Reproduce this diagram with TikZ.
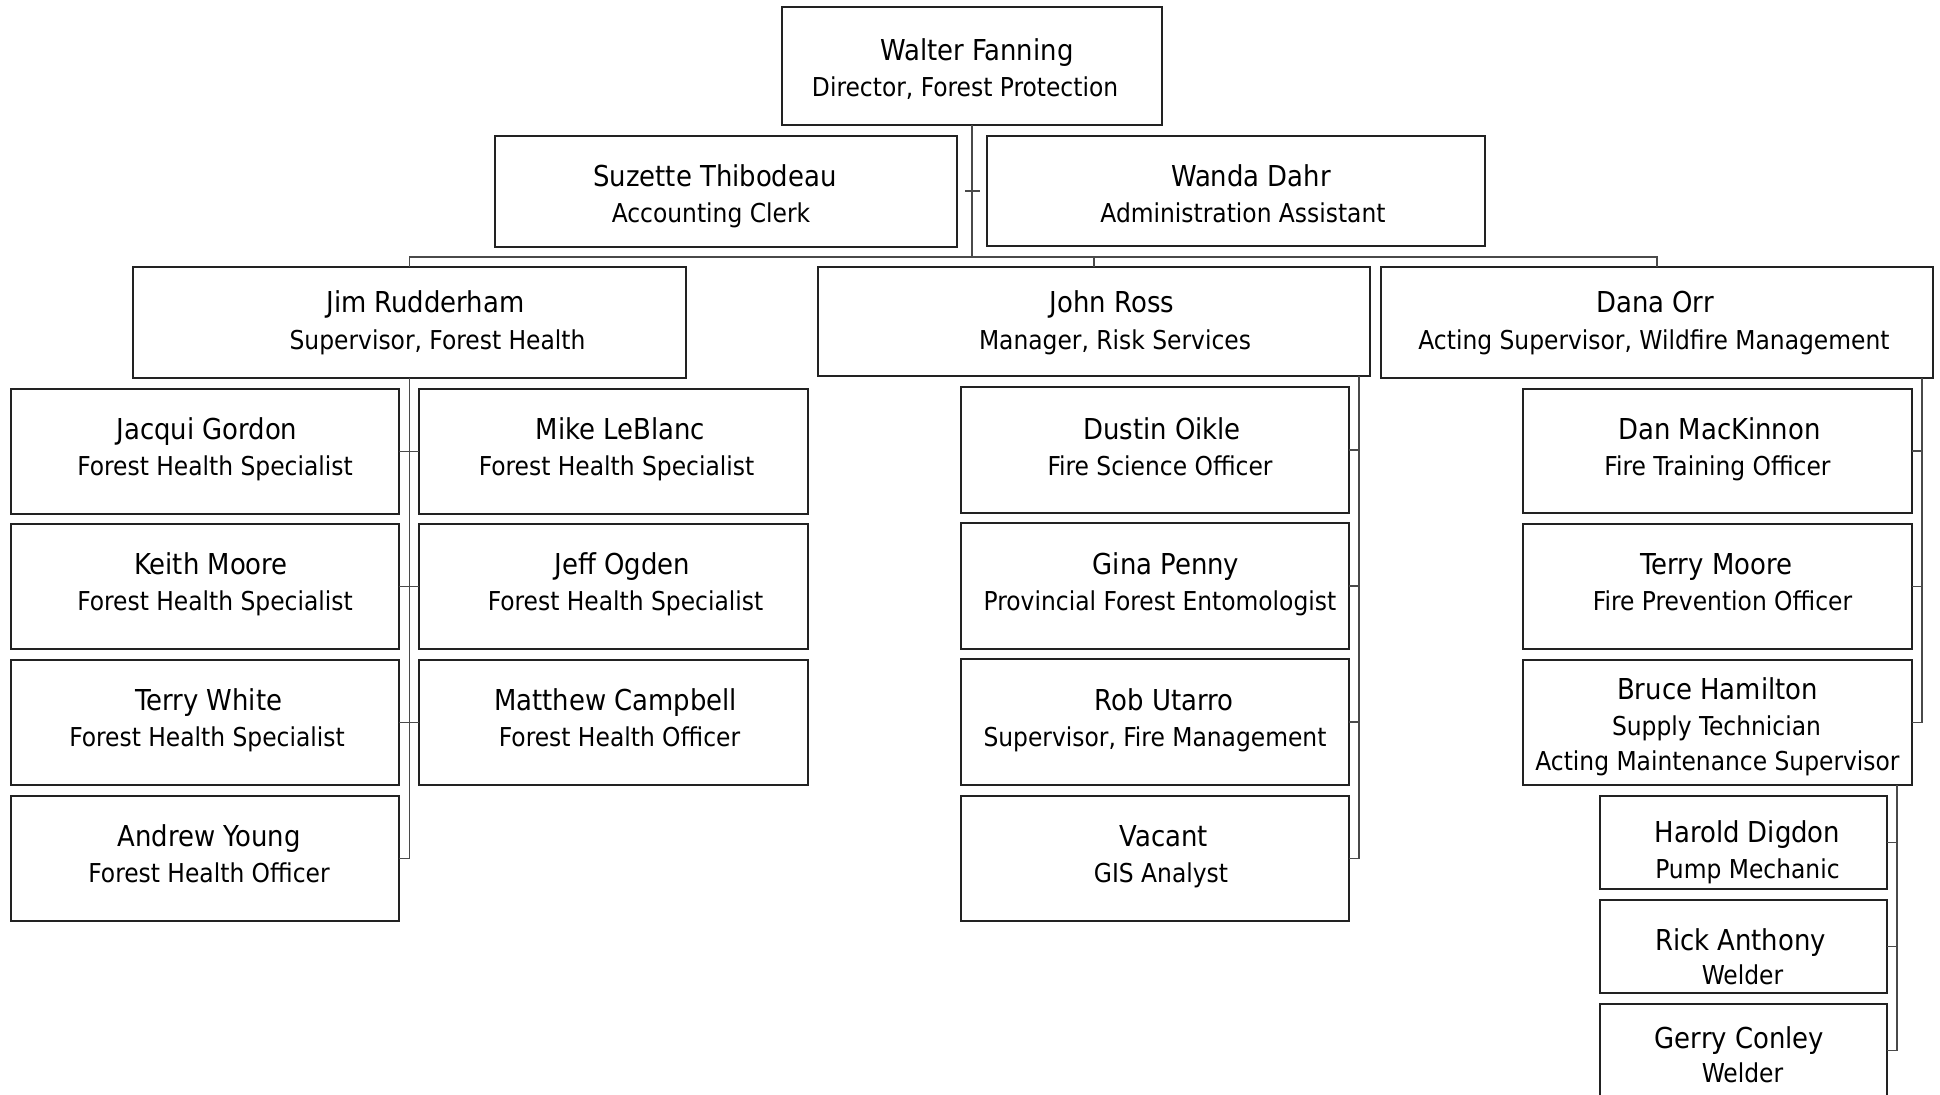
\documentclass[tikz,border=0pt]{standalone}
\usepackage{fontspec}
\setmainfont{DejaVu Sans Condensed}
\usetikzlibrary{calc}
\definecolor{boxline}{HTML}{222222}
\definecolor{connline}{HTML}{4A4A4A}
\tikzset{
  orgbox/.style={draw=boxline, line width=1pt, rectangle, inner sep=0pt, outer sep=0pt, fill=white},
  conn/.style={draw=connline, line width=0.75pt},
  lab/.style={inner sep=0pt, outer sep=0pt, anchor=base, font=\fontsize{13pt}{16pt}\selectfont, text=black},
  namelab/.style={lab, font=\fontsize{14.4pt}{17pt}\selectfont}
}
% \obox{name}{x1}{y1}{x2}{y2}
\newcommand{\obox}[5]{\node[orgbox, minimum width={0.5pt*(#4-#2)}, minimum height={0.5pt*(#5-#3)}] (#1) at ({(#2+#4)/2},{(#3+#5)/2}) {};}
% \otxt{box}{id}{dx}{dy}{text}  (title line)
\newcommand{\otxt}[5]{\node[lab] (#1-#2) at ($(#1.north)+(#3,#4)$) {#5};}
% \oname{box}{dx}{dy}{text}  (name line)
\newcommand{\oname}[4]{\node[namelab] (#1-n) at ($(#1.north)+(#2,#3)$) {#4};}
\begin{document}
\begin{tikzpicture}[x=0.5pt,y=-0.5pt]
\useasboundingbox (0,0) rectangle (1940,1095);
\clip (0,0) rectangle (1940,1095);

% ---- boxes ----
\obox{walter}{782}{7}{1162}{125}
\obox{suzette}{495}{136}{957}{247}
\obox{wanda}{987}{136}{1485}{246}
\obox{jim}{133}{267}{686}{378}
\obox{john}{818}{267}{1370}{376}
\obox{dana}{1381}{267}{1933}{378}
\obox{jacqui}{11}{389}{399}{514}
\obox{keith}{11}{524}{399}{649}
\obox{terryw}{11}{660}{399}{785}
\obox{andrew}{11}{796}{399}{921}
\obox{mike}{419}{389}{808}{514}
\obox{jeff}{419}{524}{808}{649}
\obox{matthew}{419}{660}{808}{785}
\obox{dustin}{961}{387}{1349}{513}
\obox{gina}{961}{523}{1349}{649}
\obox{rob}{961}{659}{1349}{785}
\obox{vacant}{961}{796}{1349}{921}
\obox{dan}{1523}{389}{1912}{513}
\obox{terrym}{1523}{524}{1912}{649}
\obox{bruce}{1523}{660}{1912}{785}
\obox{harold}{1600}{796}{1887}{889}
\obox{rick}{1600}{900}{1887}{993}
\obox{gerry}{1600}{1004}{1887}{1097}

% ---- texts ----
\oname{walter}{5}{54}{Walter Fanning}
\otxt{walter}{t}{-7}{90}{Director, Forest Protection}
\oname{suzette}{-11}{51}{Suzette Thibodeau}
\otxt{suzette}{t}{-15}{87}{Accounting Clerk}
\oname{wanda}{15}{51}{Wanda Dahr}
\otxt{wanda}{t}{7}{87}{Administration Assistant}
\oname{jim}{16}{46}{Jim Rudderham}
\otxt{jim}{t}{28}{83}{Supervisor, Forest Health}
\oname{john}{18}{46}{John Ross}
\otxt{john}{t}{21}{83}{Manager, Risk Services}
\oname{dana}{-2}{46}{Dana Orr}
\otxt{dana}{t}{-3}{83}{Acting Supervisor, Wildfire Management}
\oname{jacqui}{2}{51}{Jacqui Gordon}
\otxt{jacqui}{t}{10}{87}{Forest Health Specialist}
\oname{keith}{6}{51}{Keith Moore}
\otxt{keith}{t}{10}{87}{Forest Health Specialist}
\oname{terryw}{4}{51}{Terry White}
\otxt{terryw}{t}{2}{87}{Forest Health Specialist}
\oname{andrew}{4}{51}{Andrew Young}
\otxt{andrew}{t}{4}{87}{Forest Health Officer}
\oname{mike}{7}{51}{Mike LeBlanc}
\otxt{mike}{t}{3}{87}{Forest Health Specialist}
\oname{jeff}{9}{51}{Jeff Ogden}
\otxt{jeff}{t}{12}{87}{Forest Health Specialist}
\oname{matthew}{2}{51}{Matthew Campbell}
\otxt{matthew}{t}{6}{87}{Forest Health Officer}
\oname{dustin}{7}{53}{Dustin Oikle}
\otxt{dustin}{t}{5}{89}{Fire Science Officer}
\oname{gina}{11}{52}{Gina Penny}
\otxt{gina}{t}{5}{88}{Provincial Forest Entomologist}
\oname{rob}{9}{52}{Rob Utarro}
\otxt{rob}{t}{0}{88}{Supervisor, Fire Management}
\oname{vacant}{9}{51}{Vacant}
\otxt{vacant}{t}{6}{87}{GIS Analyst}
\oname{dan}{2}{51}{Dan MacKinnon}
\otxt{dan}{t}{0}{87}{Fire Training Officer}
\oname{terrym}{-1}{51}{Terry Moore}
\otxt{terrym}{t}{5}{87}{Fire Prevention Officer}
\oname{bruce}{0}{40}{Bruce Hamilton}
\otxt{bruce}{t}{-1}{76}{Supply Technician}
\otxt{bruce}{s}{0}{111}{Acting Maintenance Supervisor}
\oname{harold}{4}{47}{Harold Digdon}
\otxt{harold}{t}{4}{83}{Pump Mechanic}
\oname{rick}{-3}{51}{Rick Anthony}
\otxt{rick}{t}{-1}{85}{Welder}
\oname{gerry}{-4}{45}{Gerry Conley}
\otxt{gerry}{t}{-1}{79}{Welder}

% ---- connectors ----
\coordinate (barR) at (1657,257);
\coordinate (tickL) at (965,191);
\coordinate (tickR) at (980,191);
\coordinate (jrt) at (1359,376);
\coordinate (dot) at (1922,378);
\coordinate (brt) at (1897,785);

\draw[conn] (walter.south) -- (walter.south |- barR);
\draw[conn] (jim.north) -- (jim.north |- barR) -- (barR) -- (dana.north);
\draw[conn] (john.north) -- (john.north |- barR);
\draw[conn] (tickL) -- (tickR);

% Jim's staff
\draw[conn] (jim.south) -- (jim.south |- andrew.east) -- (andrew.east);
\draw[conn] (jacqui.east) -- (mike.west);
\draw[conn] (keith.east) -- (jeff.west);
\draw[conn] (terryw.east) -- (matthew.west);

% John's staff
\draw[conn] (jrt) |- (vacant.east);
\draw[conn] (dustin.east) -- (dustin.east -| jrt);
\draw[conn] (gina.east) -- (gina.east -| jrt);
\draw[conn] (rob.east) -- (rob.east -| jrt);

% Dana's staff
\draw[conn] (dot) |- (bruce.east);
\draw[conn] (dan.east) -- (dan.east -| dot);
\draw[conn] (terrym.east) -- (terrym.east -| dot);

% Bruce's staff
\draw[conn] (brt) |- (gerry.east);
\draw[conn] (harold.east) -- (harold.east -| brt);
\draw[conn] (rick.east) -- (rick.east -| brt);
\end{tikzpicture}
\end{document}
